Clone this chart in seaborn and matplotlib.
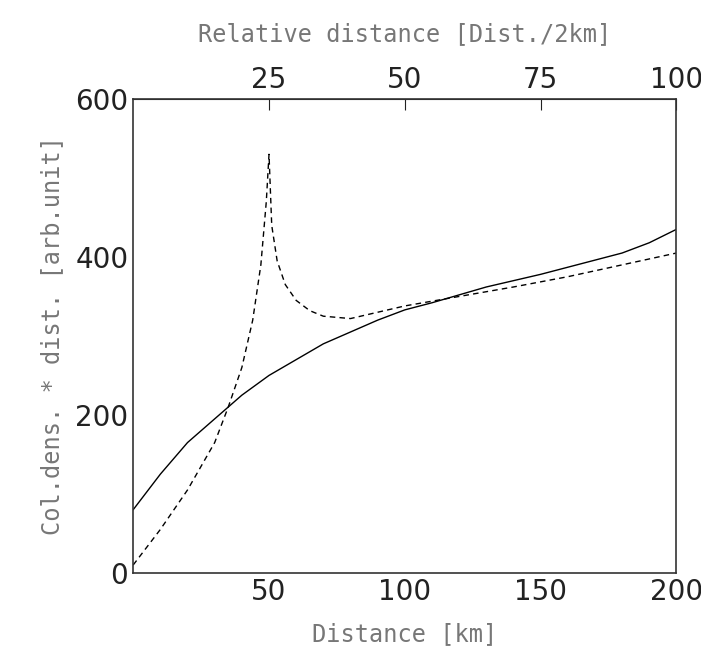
import matplotlib
matplotlib.use('Agg')
import matplotlib.pyplot as plt
import seaborn as sns

# solid curve
dist_solid = [0, 10, 20, 30, 40, 50, 60, 70, 80, 90, 100, 110, 120, 130, 140, 150, 160, 170, 180, 190, 200]
val_solid = [80, 125, 165, 195, 225, 250, 270, 290, 305, 320, 333, 342, 352, 362, 370, 378, 387, 396, 405, 418, 435]

# dashed curve
dist_dash = [0, 10, 20, 30, 35, 40, 44, 47, 49, 50, 51, 53, 56, 60, 65, 70, 80, 90, 100, 120, 140, 160, 180, 200]
val_dash = [10, 55, 105, 165, 210, 260, 320, 390, 470, 530, 440, 395, 365, 345, 332, 325, 322, 330, 338, 350, 362, 375, 390, 405]

sns.set_style('white')
plt.rcParams['font.family'] = ['DejaVu Sans']

fig = plt.figure(figsize=(7.01, 6.60), dpi=100)
ax = fig.add_axes([0.19, 0.132, 0.775, 0.718])
sns.lineplot(x=dist_solid, y=val_solid, ax=ax, color='black', lw=1.0)
sns.lineplot(x=dist_dash, y=val_dash, ax=ax, color='black', lw=1.0, linestyle=(0, (4, 3)))

ax.set_xlim(0, 200)
ax.set_ylim(0, 600)
ax.set_xticks([50, 100, 150, 200])
ax.set_yticks([0, 200, 400, 600])
ax.set_xticks(range(0, 201, 10), minor=True)
ax.set_yticks(range(0, 601, 50), minor=True)
ax.tick_params(which='both', direction='in', labelsize=20, colors='#222222')
ax.tick_params(which='major', length=8)
ax.tick_params(which='minor', length=4)
for s in ax.spines.values():
    s.set_color('#333333')
    s.set_linewidth(1.2)

mono = {'family': 'DejaVu Sans Mono', 'color': '#777777', 'size': 17}
ax.set_xlabel('Distance [km]', fontdict=mono, labelpad=12)
ax.set_ylabel('Col.dens. * dist. [arb.unit]', fontdict=mono, labelpad=8)

top = ax.secondary_xaxis('top', functions=(lambda x: x / 2, lambda x: x * 2))
top.set_xticks([25, 50, 75, 100])
top.tick_params(direction='in', labelsize=20, length=8, colors='#222222')
top.set_xlabel('Relative distance [Dist./2km]', fontdict=mono, labelpad=18)

fig.savefig('out.png')
